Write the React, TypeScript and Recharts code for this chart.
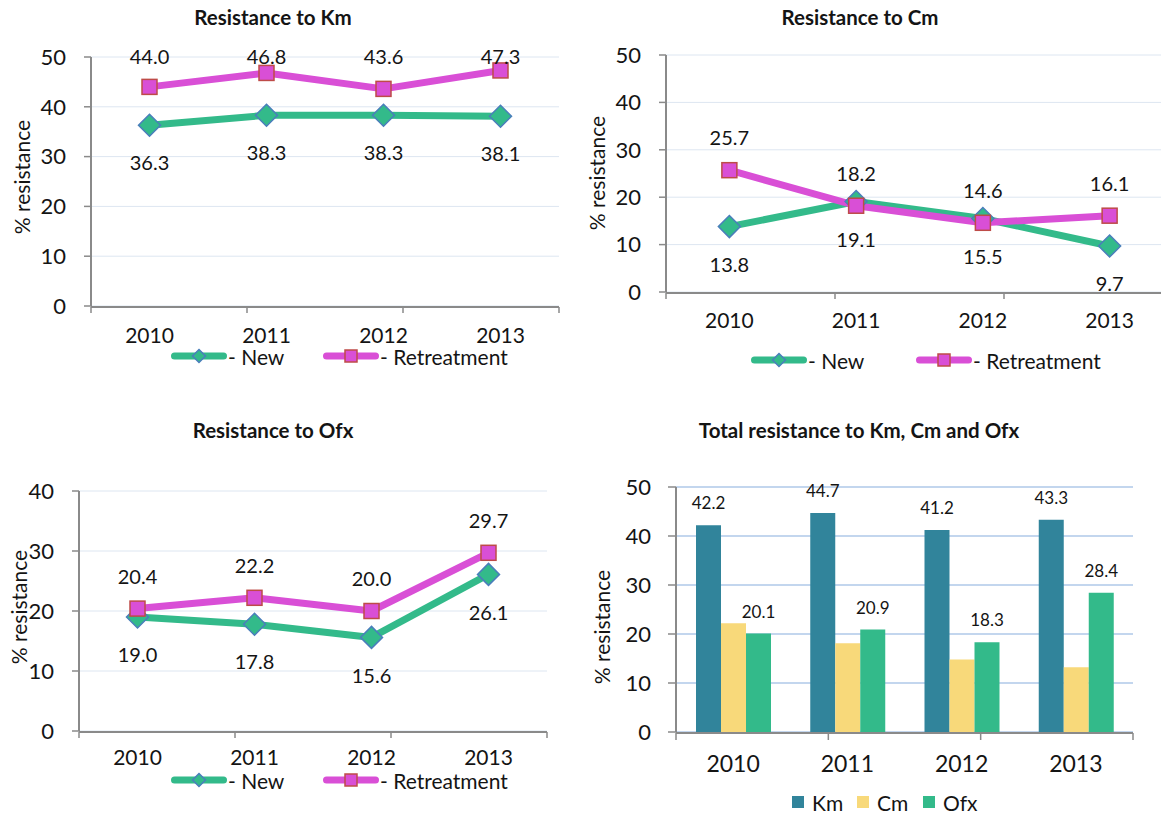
import React from 'react';
import {
  Bar,
  BarChart,
  CartesianGrid,
  LabelList,
  Legend,
  Line,
  LineChart,
  XAxis,
  YAxis,
} from 'recharts';

// Drug resistance 2010-2013: three line panels (new vs retreatment cases)
// plus one grouped-bar panel with the totals.

const years = ['2010', '2011', '2012', '2013'];

const kmNew = [36.3, 38.3, 38.3, 38.1];
const kmRetreat = [44.0, 46.8, 43.6, 47.3];

const cmNew = [13.8, 19.1, 15.5, 9.7];
const cmRetreat = [25.7, 18.2, 14.6, 16.1];

const ofxNew = [19.0, 17.8, 15.6, 26.1];
const ofxRetreat = [20.4, 22.2, 20.0, 29.7];

const totalKm = [42.2, 44.7, 41.2, 43.3];
const totalCm = [22.2, 18.1, 14.8, 13.2];
const totalOfx = [20.1, 20.9, 18.3, 28.4];

const ticks50 = [0, 10, 20, 30, 40, 50];
const ticks40 = [0, 10, 20, 30, 40];
// year i sits in the middle of slot [i, i+1]; slot edges carry the tick marks
const boundaryTicks = years.map((_, i) => i).concat(years.length);
const centreTicks = years.map((_, i) => i + 0.5);
const yearOf = (v: number) => years[Math.floor(v)];

const FONT = 'Lato, "Open Sans", sans-serif';
const TEXT = '#141414';
const AXIS = '#8a8a8a';
const GRID = '#dde6f1';
const GRID_BAR = '#c3d6ee';
const GREEN = '#33ba8a';
const MAGENTA = '#d94fd6';
const DIAMOND_EDGE = '#4a7ebb';
const SQUARE_EDGE = '#be4b48';
const KM_BAR = '#31849b';
const CM_BAR = '#f8d97a';
const OFX_BAR = '#33ba8a';

const Diamond = ({ cx, cy, r }: { cx: number; cy: number; r: number }) => (
  <path
    d={`M${cx},${cy - r}L${cx + r},${cy}L${cx},${cy + r}L${cx - r},${cy}Z`}
    fill={GREEN}
    stroke={DIAMOND_EDGE}
    strokeWidth={1.5}
  />
);

const Square = ({ cx, cy, s }: { cx: number; cy: number; s: number }) => (
  <rect x={cx - s / 2} y={cy - s / 2} width={s} height={s} fill={MAGENTA} stroke={SQUARE_EDGE} strokeWidth={1.5} />
);

const noTickText = () => <g />;
const tickFont = (size: number) => ({ fontSize: size, fill: TEXT, fontFamily: FONT });
const axisStroke = { stroke: AXIS, strokeWidth: 2 };
const tickStroke = { stroke: AXIS, strokeWidth: 1.5 };

// label centred dy px from the point, never above minY
const pointLabel = (dy: number, minY: number, size: number) => (p: any) => {
  const vb = p.viewBox ?? {};
  const x = (vb.x ?? p.x) + (vb.width ?? 0) / 2;
  const y = Math.max((vb.y ?? p.y) + dy, minY);
  return (
    <text x={x} y={y + 0.36 * size} textAnchor="middle" fontSize={size} fill={TEXT} fontFamily={FONT}>
      {Number(p.value).toFixed(1)}
    </text>
  );
};

const yTitle = (x: number, cy: number) => () => (
  <text
    x={x}
    y={cy}
    dy="0.36em"
    transform={`rotate(-90, ${x}, ${cy})`}
    textAnchor="middle"
    fontSize={21}
    fill={TEXT}
    fontFamily={FONT}
  >
    % resistance
  </text>
);

function LineIcon({ kind }: { kind: 'new' | 'retreat' }) {
  return (
    <svg width={56} height={18} style={{ display: 'block' }}>
      <line
        x1={3.5}
        x2={52.5}
        y1={9}
        y2={9}
        stroke={kind === 'new' ? GREEN : MAGENTA}
        strokeWidth={7}
        strokeLinecap="round"
      />
      {kind === 'new' ? <Diamond cx={28} cy={9} r={6.5} /> : <Square cx={28} cy={9} s={12} />}
    </svg>
  );
}

const lineLegend = (xs: number[]) => () => (
  <div style={{ position: 'relative', height: 26 }}>
    {(['new', 'retreat'] as const).map((k, i) => (
      <div
        key={k}
        style={{ position: 'absolute', left: xs[i], top: 0, height: 26, display: 'flex', alignItems: 'center' }}
      >
        <LineIcon kind={k} />
        <span style={{ fontSize: 21, color: TEXT, fontFamily: FONT, whiteSpace: 'nowrap', marginLeft: 1 }}>
          {k === 'new' ? '- New' : '- Retreatment'}
        </span>
      </div>
    ))}
  </div>
);

interface PanelProps {
  newValues: number[];
  retreatValues: number[];
  width: number;
  height: number;
  margin: { top: number; right: number; bottom: number; left: number };
  yAxisWidth: number;
  yMax: number;
  yTicks: number[];
  catGap: number;
  yTitleX: number;
  yTitleY: number;
  legendTop: number;
  legendX: number[];
}

// both x axes are 1px tall so the order recharts stacks them in does not matter;
// the year labels are pushed down with tickMargin instead
function LinePanel(p: PanelProps) {
  const rows = years.map((year, i) => ({
    year,
    pos: centreTicks[i],
    newCase: p.newValues[i],
    retreat: p.retreatValues[i],
  }));

  return (
    <LineChart width={p.width} height={p.height} data={rows} margin={p.margin}>
      <CartesianGrid vertical={false} stroke={GRID} xAxisId="cat" />
      <XAxis
        xAxisId="grid"
        type="number"
        domain={[0, years.length]}
        ticks={boundaryTicks}
        interval={0}
        allowDataOverflow
        tick={noTickText}
        height={1}
        tickSize={6}
        axisLine={axisStroke}
        tickLine={tickStroke}
      />
      <XAxis
        xAxisId="cat"
        type="number"
        dataKey="pos"
        domain={[0, years.length]}
        ticks={centreTicks}
        interval={0}
        allowDataOverflow
        tickFormatter={yearOf}
        axisLine={false}
        tickLine={false}
        height={1}
        tickSize={0}
        tickMargin={p.catGap}
        tick={tickFont(21)}
      />
      <YAxis
        width={p.yAxisWidth}
        domain={[0, p.yMax]}
        ticks={p.yTicks}
        interval={0}
        tickSize={7}
        tickMargin={18}
        axisLine={axisStroke}
        tickLine={tickStroke}
        tick={tickFont(22)}
        label={yTitle(p.yTitleX, p.yTitleY)}
      />
      <Legend
        layout="horizontal"
        verticalAlign="middle"
        align="center"
        wrapperStyle={{ left: 0, top: p.legendTop - 13, width: p.width, height: 26 }}
        content={lineLegend(p.legendX)}
      />
      <Line
        xAxisId="cat"
        dataKey="newCase"
        name="New"
        stroke={GREEN}
        strokeWidth={7}
        strokeLinejoin="round"
        isAnimationActive={false}
        dot={(d: any) => <Diamond key={`n${d.index}`} cx={d.cx} cy={d.cy} r={11} />}
        activeDot={false}
      >
        <LabelList dataKey="newCase" content={pointLabel(38, 0, 20)} />
      </Line>
      <Line
        xAxisId="cat"
        dataKey="retreat"
        name="Retreatment"
        stroke={MAGENTA}
        strokeWidth={7}
        strokeLinejoin="round"
        isAnimationActive={false}
        dot={(d: any) => <Square key={`r${d.index}`} cx={d.cx} cy={d.cy} s={15} />}
        activeDot={false}
      >
        <LabelList dataKey="retreat" content={pointLabel(-32, p.margin.top, 20)} />
      </Line>
    </LineChart>
  );
}

const barLegend = () => (
  <div style={{ position: 'relative', height: 26 }}>
    {[
      { label: 'Km', color: KM_BAR, x: 212 },
      { label: 'Cm', color: CM_BAR, x: 277 },
      { label: 'Ofx', color: OFX_BAR, x: 343 },
    ].map((it) => (
      <div
        key={it.label}
        style={{ position: 'absolute', left: it.x, top: 0, height: 26, display: 'flex', alignItems: 'center' }}
      >
        <div style={{ width: 12, height: 12, background: it.color, marginRight: 8 }} />
        <span style={{ fontSize: 21, color: TEXT, fontFamily: FONT }}>{it.label}</span>
      </div>
    ))}
  </div>
);

function TotalPanel() {
  const rows = years.map((year, i) => ({
    year,
    km: totalKm[i],
    cm: totalCm[i],
    ofx: totalOfx[i],
  }));

  return (
    <BarChart width={581} height={414} data={rows} margin={{ top: 87, right: 28, bottom: 80, left: 16 }} barGap={0}>
      <CartesianGrid vertical={false} stroke={GRID_BAR} strokeWidth={2} xAxisId="cat" />
      <XAxis
        xAxisId="grid"
        type="number"
        domain={[0, years.length]}
        ticks={boundaryTicks}
        interval={0}
        allowDataOverflow
        tick={noTickText}
        height={1}
        tickSize={7}
        axisLine={axisStroke}
        tickLine={tickStroke}
      />
      <XAxis
        xAxisId="cat"
        dataKey="year"
        axisLine={false}
        tickLine={false}
        height={1}
        tickSize={0}
        tickMargin={24}
        tick={tickFont(23)}
      />
      <YAxis
        width={80}
        domain={[0, 50]}
        ticks={ticks50}
        interval={0}
        tickSize={8}
        tickMargin={17}
        axisLine={axisStroke}
        tickLine={tickStroke}
        tick={tickFont(22)}
        label={yTitle(22, 227)}
      />
      <Legend
        layout="horizontal"
        verticalAlign="middle"
        align="center"
        wrapperStyle={{ left: 0, top: 402 - 13, width: 581, height: 26 }}
        content={barLegend}
      />
      <Bar xAxisId="cat" dataKey="km" name="Km" fill={KM_BAR} barSize={25} isAnimationActive={false}>
        <LabelList dataKey="km" content={pointLabel(-22, 0, 17)} />
      </Bar>
      <Bar xAxisId="cat" dataKey="cm" name="Cm" fill={CM_BAR} barSize={25} isAnimationActive={false} />
      <Bar xAxisId="cat" dataKey="ofx" name="Ofx" fill={OFX_BAR} barSize={25} isAnimationActive={false}>
        <LabelList dataKey="ofx" content={pointLabel(-22, 0, 17)} />
      </Bar>
    </BarChart>
  );
}

const titleStyle = (x: number, y: number): React.CSSProperties => ({
  position: 'absolute',
  left: x,
  top: y,
  transform: 'translate(-50%, -50%)',
  fontFamily: FONT,
  fontWeight: 700,
  fontSize: 20.5,
  color: TEXT,
  whiteSpace: 'nowrap',
});

export default function App() {
  return (
    <div
      style={{
        position: 'absolute',
        left: 0,
        top: 0,
        width: 1161,
        height: 814,
        overflow: 'hidden',
        background: '#fff',
        fontFamily: FONT,
      }}
    >
      <div style={{ position: 'absolute', left: 0, top: 0 }}>
        <LinePanel
          newValues={kmNew}
          retreatValues={kmRetreat}
          width={580}
          height={400}
          margin={{ top: 57, right: 21, bottom: 92, left: 11 }}
          yAxisWidth={80}
          yMax={50}
          yTicks={ticks50}
          catGap={22}
          yTitleX={22}
          yTitleY={177}
          legendTop={356}
          legendX={[171, 323]}
        />
      </div>
      <div style={{ position: 'absolute', left: 580, top: 0 }}>
        <LinePanel
          newValues={cmNew}
          retreatValues={cmRetreat}
          width={600}
          height={400}
          margin={{ top: 55, right: 7, bottom: 106, left: 6 }}
          yAxisWidth={80}
          yMax={50}
          yTicks={ticks50}
          catGap={21}
          yTitleX={17}
          yTitleY={173}
          legendTop={360}
          legendX={[171, 336]}
        />
      </div>
      <div style={{ position: 'absolute', left: 0, top: 400 }}>
        <LinePanel
          newValues={ofxNew}
          retreatValues={ofxRetreat}
          width={580}
          height={414}
          margin={{ top: 91, right: 33, bottom: 81, left: 9 }}
          yAxisWidth={70}
          yMax={40}
          yTicks={ticks40}
          catGap={19}
          yTitleX={19}
          yTitleY={207}
          legendTop={380}
          legendX={[171, 323]}
        />
      </div>
      <div style={{ position: 'absolute', left: 580, top: 400 }}>
        <TotalPanel />
      </div>
      <div style={titleStyle(273, 17)}>Resistance to Km</div>
      <div style={titleStyle(860, 17)}>Resistance to Cm</div>
      <div style={titleStyle(273, 430)}>Resistance to Ofx</div>
      <div style={titleStyle(859, 430)}>Total resistance to Km, Cm and Ofx</div>
    </div>
  );
}
